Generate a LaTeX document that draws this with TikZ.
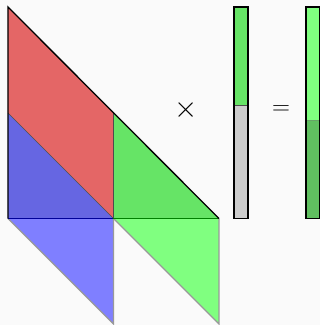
\documentclass[tikz,border=0pt]{standalone}
\usepackage{xcolor}
\usepackage{tikz}
\usetikzlibrary{positioning}

\definecolor{bgcol}{HTML}{FAFAFA}
\definecolor{redblk}{HTML}{E46666}
\definecolor{blueup}{HTML}{6666E2}
\definecolor{bluelo}{HTML}{7F7FFF}
\definecolor{greenup}{HTML}{66E466}
\definecolor{greenlo}{HTML}{80FF80}
\definecolor{greendk}{HTML}{60BF60}
\definecolor{vecgray}{HTML}{CCCCCC}

\tikzset{
  edge/.style={line width=0.6pt, black!70},
  faint/.style={line width=1.2pt, black!40},
  frame/.style={line width=1.3pt, black},
  op/.style={inner sep=0pt, font=\fontsize{30}{36}\selectfont}
}

\begin{document}
\begin{tikzpicture}[x=1pt, y=-1pt]
  % Canvas (320 x 325)
  \fill[bgcol] (0,0) rectangle (320,325);
  \useasboundingbox (0,0) rectangle (320,325);

  % Red block
  \fill[redblk] (8,7) -- (113.5,113) -- (113.5,218.5) -- (8,113) -- cycle;

  % Blue block: upper half darker, lower half lighter
  \fill[blueup] (8,113) -- (113.5,218.5) -- (8,218.5) -- cycle;
  \fill[bluelo] (8,218.5) -- (113.5,218.5) -- (113.5,324) -- cycle;

  % Green block
  \fill[greenup] (113.5,113) -- (219,218.5) -- (113.5,218.5) -- cycle;
  \fill[greenlo] (113.5,218.5) -- (219,218.5) -- (219,324) -- cycle;

  % Lower edges
  \draw[faint] (8,218.5) -- (113.5,324) -- (113.5,218.5);
  \draw[faint] (113.5,218.5) -- (219,324) -- (219,218.5);

  % Inner edges
  \draw[edge] (8,113) -- (113.5,218.5);
  \draw[edge] (113.5,113) -- (113.5,218.5);
  \draw[line width=1.2pt, blue!60!black] (8,218.5) -- (113.5,218.5);
  \draw[line width=1.2pt, green!50!black] (113.5,218.5) -- (219,218.5);

  % Outline of the square
  \draw[frame] (8,218.5) -- (8,7) -- (219,218.5);

  % Operators
  \node[op, scale=1.2] (times) at (186.5,110) {$\times$};
  \node[op] (equals) at (281,110) {$=$};

  % Input vector
  \fill[greenup] (234,7) rectangle (248,105);
  \fill[vecgray] (234,105) rectangle (248,218.5);
  \draw[edge] (234,105) -- (248,105);
  \draw[frame] (234,7) rectangle (248,218.5);

  % Output vector
  \fill[greenlo] (306,7) rectangle (319.3,120);
  \fill[greendk] (306,120) rectangle (319.3,218.5);
  \draw[line width=0.6pt, green!40!black!60] (306,120) -- (319.3,120);
  \draw[frame] (306,7) rectangle (319.3,218.5);
\end{tikzpicture}
\end{document}
